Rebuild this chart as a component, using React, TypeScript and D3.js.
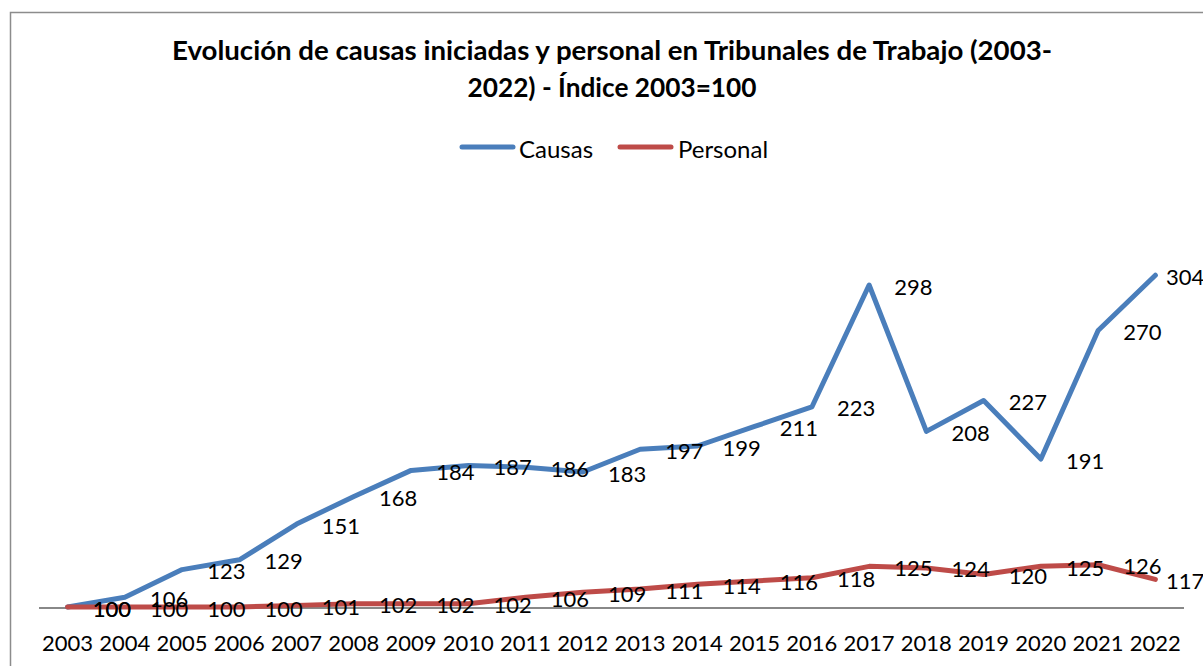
import React from "react";
import * as d3 from "d3";

const years = ["2003","2004","2005","2006","2007","2008","2009","2010","2011","2012","2013","2014","2015","2016","2017","2018","2019","2020","2021","2022"];
const causas = [100,106,123,129,151,168,184,187,186,183,197,199,211,223,298,208,227,191,270,304];
const personal = [100,100,100,100,101,102,102,102,106,109,111,114,116,118,125,124,120,125,126,117];
const seriesNames = ["Causas", "Personal"];
const titleLines = ["Evolución de causas iniciadas y personal en Tribunales de Trabajo (2003-", "2022) - Índice 2003=100"];
const titleWidths = [880, 289];

const W = 1203, H = 666;
const BLUE = "#4A7EBB";
const RED = "#BE4B48";
const FONT = "Lato, 'Open Sans', sans-serif";

export default function App() {
  const x = d3.scaleBand<string>().domain(years).range([39, 1184]);
  const cx = (yr: string) => (x(yr) as number) + x.bandwidth() / 2;
  const y = d3.scaleLinear().domain([100, 298]).range([607, 285]);
  const line = d3.line<number>().x((_, i) => cx(years[i])).y((v) => y(v));

  const series = [
    { name: seriesNames[0], values: causas, color: BLUE },
    { name: seriesNames[1], values: personal, color: RED },
  ];

  return (
    <svg width={W} height={H} style={{ position: "absolute", left: 0, top: 0, background: "#fff" }} fontFamily={FONT}>
      <rect x={0} y={0} width={W} height={H} fill="#fff" />
      {/* chart border */}
      <path d={`M10.5,${H} L10.5,12.5 L${W},12.5`} fill="none" stroke="#8c8c8c" strokeWidth={1.5} />
      {/* title */}
      {titleLines.map((t, i) => (
        <text key={i} x={612} y={50 + i * 37} textAnchor="middle" dominantBaseline="central" fontWeight="bold" fontSize={26} textLength={titleWidths[i]} lengthAdjust="spacingAndGlyphs" fill="#000">{t}</text>
      ))}
      {/* legend */}
      <line x1={462} x2={513} y1={147} y2={147} stroke={BLUE} strokeWidth={5} strokeLinecap="round" />
      <text x={519} y={148} dominantBaseline="central" fontSize={24} fill="#000">{seriesNames[0]}</text>
      <line x1={620} x2={671} y1={147} y2={147} stroke={RED} strokeWidth={5} strokeLinecap="round" />
      <text x={678} y={148} dominantBaseline="central" fontSize={24} fill="#000">{seriesNames[1]}</text>
      {/* x axis */}
      <line x1={39} x2={1184} y1={608} y2={608} stroke="#888" strokeWidth={2} />
      {years.map((yr) => (
        <text key={yr} x={cx(yr)} y={642} textAnchor="middle" dominantBaseline="central" fontSize={22} fill="#000">{yr}</text>
      ))}
      {/* lines */}
      {series.map((s) => (
        <path key={s.name} d={line(s.values) || ""} fill="none" stroke={s.color} strokeWidth={5} strokeLinejoin="round" strokeLinecap="round" />
      ))}
      {/* data labels */}
      {series.map((s) =>
        s.values.map((v, i) => (
          <text key={s.name + i} x={Math.min(cx(years[i]) + 25, 1166)} y={y(v) + 1} dominantBaseline="central" fontSize={22} fill="#000">{v}</text>
        ))
      )}
    </svg>
  );
}
